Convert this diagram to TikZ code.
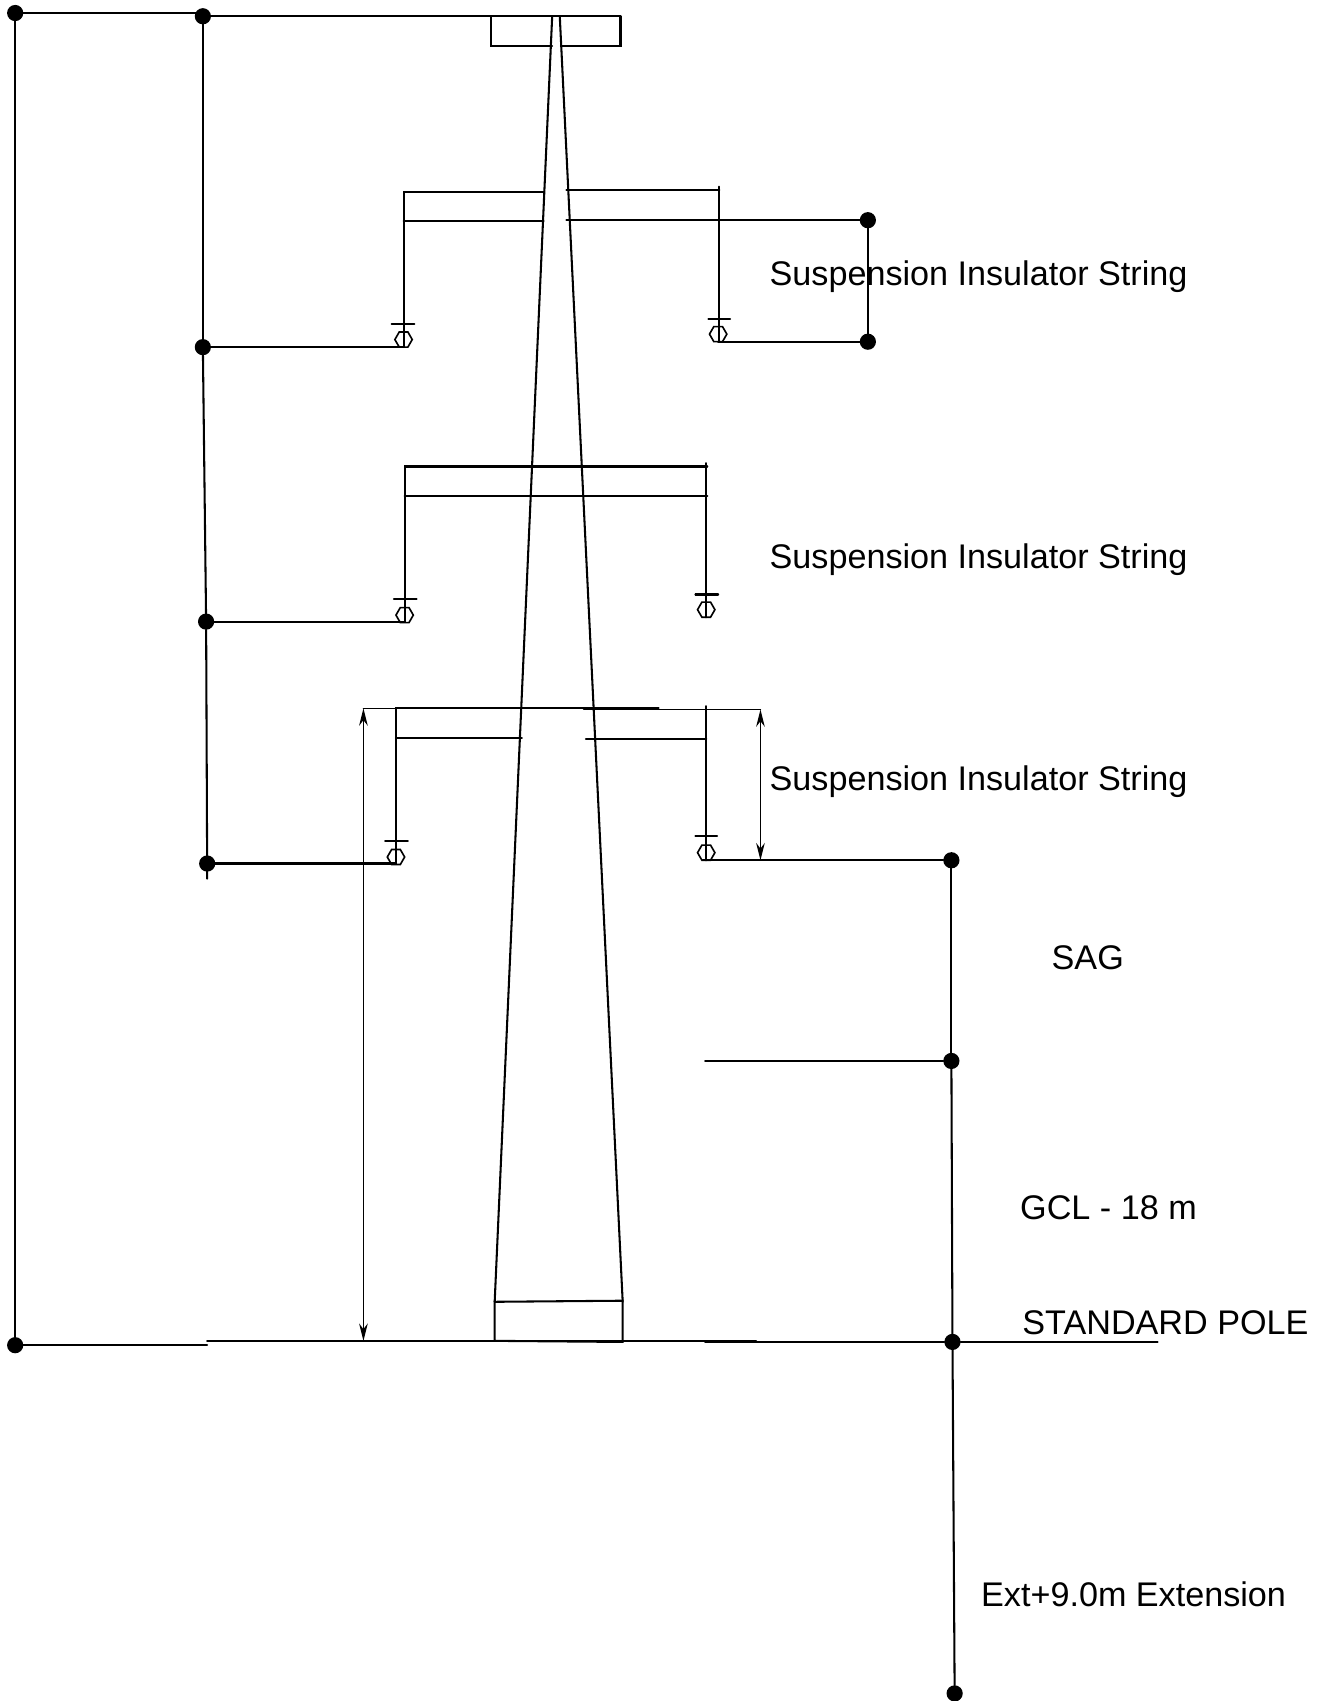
\documentclass[tikz,border=0pt]{standalone}
\usepackage{fontspec}
\setmainfont{Liberation Sans}
\usetikzlibrary{shapes.geometric,arrows.meta,positioning}
\tikzset
{
  wiredot/.style  = {circle, fill=black, draw=black, inner sep=0pt, minimum size=13pt},
  hexnode/.style  = {regular polygon, regular polygon sides=6, draw=black, inner sep=0pt, minimum size=16pt, line width=1.5pt},
  textlabel/.style = {anchor=west, inner sep=0pt, font=\fontsize{31.5}{32}\selectfont},
  steel/.style    = {line width=1.9pt, line cap=round}
}
\begin{document}
\begin{tikzpicture}[x=1pt,y=-1pt,>={Stealth[length=16pt,width=8pt]},steel]
  \useasboundingbox (0,0) rectangle (1228,1568);
  % tower
  \draw (509,15) -- (456,1200);
  \draw (516,15) -- (574,1200);
  \draw (456,1200) -- (574,1199) -- (574,1237) -- (456,1236) -- cycle;
  % top arm
  \draw (453,15) -- (453,42) -- (509,42);
  \draw (517,42) -- (572,42) -- (572,15);
  % dots
  \node [wiredot] (topleft) at (14,12) {};
  \node [wiredot] (topwire) at (187,15) {};
  \node [wiredot] (leftone) at (187,320) {};
  \node [wiredot] (lefttwo) at (190,573) {};
  \node [wiredot] (leftthree) at (191,796) {};
  \node [wiredot] (bottomleft) at (14,1240) {};
  \node [wiredot] (rightup) at (800,203) {};
  \node [wiredot] (rightdown) at (800,315) {};
  \node [wiredot] (sagtop) at (877,793) {};
  \node [wiredot] (sagmid) at (877,978) {};
  \node [wiredot] (ground) at (878,1237) {};
  \node [wiredot] (extend) at (880,1561) {};
  % insulators
  \node [hexnode] (hexone) at (372,313) {};
  \node [hexnode] (hextwo) at (662,308) {};
  \node [hexnode] (hexthree) at (373,567) {};
  \node [hexnode] (hexfour) at (651,562) {};
  \node [hexnode] (hexfive) at (365,790) {};
  \node [hexnode] (hexsix) at (651,786) {};
  % first arm
  \draw (372,320) -- (372,177) -- (501,177);
  \draw (372,204) -- (501,204);
  \draw (522,175) -- (663,175);
  \draw (663,172) -- (663,315);
  \draw (361,299) -- (382,299);
  \draw (653,294) -- (673,294);
  % second arm
  \draw (373,573) -- (373,430) -- (652,430);
  \draw (373,457) -- (652,457);
  \draw (651,427) -- (651,569);
  \draw (363,552) -- (384,552);
  \draw (641,548) -- (662,548);
  % third arm
  \draw (365,796) -- (365,653) -- (607,653);
  \draw (365,680) -- (481,680);
  \draw (540,681) -- (651,681);
  \draw (651,651) -- (651,793);
  \draw (355,775) -- (376,775);
  \draw (641,771) -- (661,771);
  % wires
  \draw (topleft) -- (topwire |- topleft);
  \draw (topwire) -- (572,15);
  \draw (topleft) -- (bottomleft);
  \draw (topwire) -- (leftone);
  \draw (leftone) -- (lefttwo);
  \draw (lefttwo) -- (191,810);
  \draw (leftone) -- (372,320);
  \draw (lefttwo) -- (373,573);
  \draw (leftthree) -- (365,796);
  \draw (522,203) -- (rightup);
  \draw (rightup) -- (rightdown);
  \draw (662,315) -- (rightdown);
  \draw (648,793) -- (sagtop);
  \draw (sagtop) -- (sagmid);
  \draw (650,978) -- (sagmid);
  \draw (sagmid) -- (ground);
  \draw (ground) -- (extend);
  \draw (bottomleft) -- (191,1240);
  \draw (191,1236) -- (697,1236);
  \draw (650,1237) -- (ground);
  \draw (ground) -- (1067,1237);
  % dimensions
  \coordinate (gclup) at (335,653);
  \coordinate (gcldown) at (335,1236);
  \coordinate (strup) at (701,654);
  \coordinate (strdown) at (701,793);
  \draw [line width=1.3pt] (gclup) -- (607,653);
  \draw [line width=1.3pt] (538,654) -- (strup);
  \draw [<->,line width=1.3pt] (gclup) -- (gcldown);
  \draw [<->,line width=1.3pt] (strup) -- (strdown);
  % labels
  \node [textlabel] (stringone) at (708.5,255) {Suspension Insulator String};
  \node [textlabel] (stringtwo) at (708.5,516) {Suspension Insulator String};
  \node [textlabel] (stringthree) at (708.5,721) {Suspension Insulator String};
  \node [textlabel] (sag) at (968.5,883) {SAG};
  \node [textlabel] (gcl) at (939.5,1113) {GCL - 18 m};
  \node [textlabel] (pole) at (941.5,1219) {STANDARD POLE};
  \node [textlabel] (ext) at (903.5,1470) {Ext+9.0m Extension};
\end{tikzpicture}
\end{document}
